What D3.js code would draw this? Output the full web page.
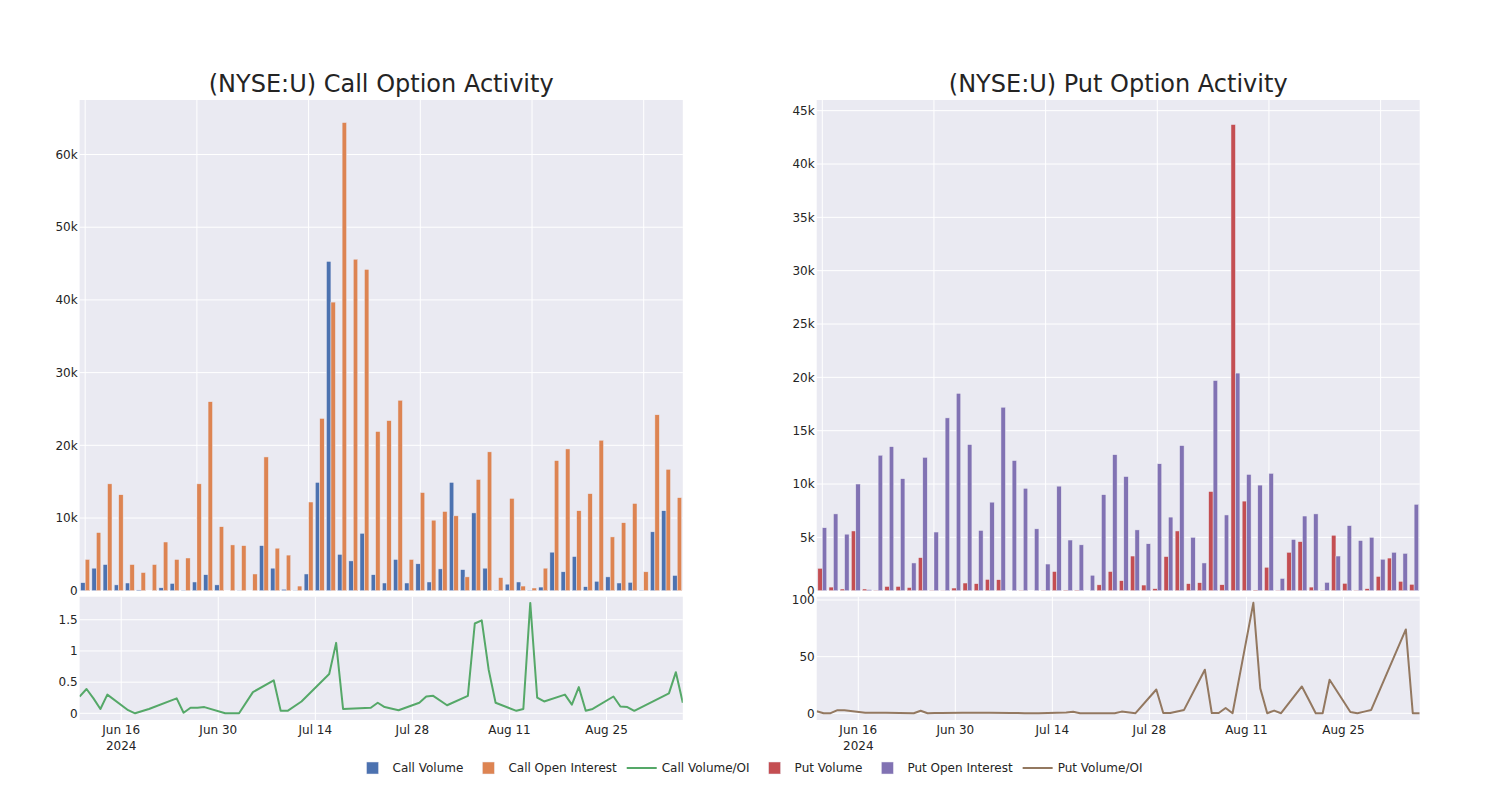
<!DOCTYPE html>
<html><head><meta charset="utf-8">
<script src="https://cdn.jsdelivr.net/npm/d3@7"></script>
<style>
body{margin:0;background:#fff}
text{font-family:"DejaVu Sans",verdana,arial,sans-serif;fill:rgb(36,36,36)}
</style></head>
<body><svg id="c" width="1500" height="800"></svg>
<script>
// ---------- DATA ----------
const dates = ["2024-06-10","2024-06-11","2024-06-12","2024-06-13","2024-06-14","2024-06-17","2024-06-18","2024-06-20",
"2024-06-24","2024-06-25","2024-06-26","2024-06-27","2024-06-28","2024-07-01","2024-07-02","2024-07-03","2024-07-05",
"2024-07-08","2024-07-09","2024-07-10","2024-07-12","2024-07-16","2024-07-17","2024-07-18","2024-07-22","2024-07-23",
"2024-07-24","2024-07-26","2024-07-29","2024-07-30","2024-07-31","2024-08-02","2024-08-05","2024-08-06","2024-08-07",
"2024-08-08","2024-08-09","2024-08-12","2024-08-13","2024-08-14","2024-08-15","2024-08-16","2024-08-19","2024-08-20",
"2024-08-21","2024-08-22","2024-08-23","2024-08-26","2024-08-27","2024-08-28","2024-08-29","2024-09-03","2024-09-04","2024-09-05"];

const callVolume = [1100,3100,3600,800,1060,100,0,400,1000,50,1200,2200,800,0,30,0,6200,3100,200,30,2300,14900,45300,5000,
4100,7900,2200,1060,4300,1060,3700,1200,3000,14900,2900,10700,3100,50,900,1200,50,500,5300,2600,4700,550,1300,1900,1060,1150,50,8100,11000,2100];
const callOpenInterest = [4300,8000,14700,13200,3600,2500,3600,6700,4300,4500,14700,26000,8800,6300,6200,2300,18400,5850,4900,640,
12200,23700,39700,64400,45600,44200,21900,23400,26200,4300,13500,9700,10900,10300,1900,15300,19100,1800,12700,640,370,3100,
17900,19500,11000,13350,20700,7400,9350,12000,2600,24200,16700,12800];
const callVolOI = [0.27,0.39,0.24,0.07,0.30,0.05,0.0,0.07,0.24,0.01,0.09,0.09,0.10,0.0,0.0,0.0,0.34,0.53,0.04,0.04,0.19,0.63,
1.13,0.07,0.09,0.17,0.10,0.05,0.17,0.27,0.28,0.13,0.28,1.44,1.49,0.70,0.17,0.04,0.07,1.77,0.25,0.19,0.30,0.14,0.42,0.04,0.07,
0.27,0.11,0.10,0.04,0.32,0.66,0.17];

const putVolume = [2100,340,160,5600,160,30,400,400,300,3100,30,20,250,720,660,1060,1030,0,30,0,30,1800,50,50,0,550,1800,940,
3250,530,190,3200,5600,660,750,9300,560,43700,8400,60,2200,30,3600,4600,340,30,5200,690,30,190,1340,3060,880,600];
const putOpenInterest = [5900,7200,5300,10000,100,12700,13500,10500,2600,12500,5500,16200,18500,13700,5650,8300,17200,12200,9600,
5800,2500,9800,4750,4300,1450,9000,12750,10700,5700,4400,11900,6900,13600,5000,2600,19700,7100,20400,10900,9900,11000,1150,
4800,7000,7200,780,3250,6100,4700,5000,2950,3600,3500,8100];
const putVolOI = [1.8,0.1,0.1,2.8,2.6,0.4,0.4,0.6,0.1,2.2,0.1,0.2,0.2,0.4,0.5,0.5,0.4,0.3,0.2,0.1,0.1,0.8,1.3,0.1,0.1,0.1,1.5,
0.1,21,0.2,0.3,3,38.5,0.3,0.3,4.7,0.1,97.5,22,0.1,2.4,0.1,23.7,12,0.1,0.1,29.6,1.2,0.1,1.5,3,74,0.1,0.1];

const callBarTicks = [0,10000,20000,30000,40000,50000,60000];
const putBarTicks = [0,5000,10000,15000,20000,25000,30000,35000,40000,45000];
const callLineTicks = [0,0.5,1,1.5];
const putLineTicks = [0,50,100];
const dateTicks = ["2024-06-16","2024-06-30","2024-07-14","2024-07-28","2024-08-11","2024-08-25"];
const categoryGridIdx = [0,10,20,30,40,50];

const legendItems = [
  {name:"Call Volume", type:"bar", color:"#4C72B0"},
  {name:"Call Open Interest", type:"bar", color:"#DD8452"},
  {name:"Call Volume/OI", type:"line", color:"#55A868"},
  {name:"Put Volume", type:"bar", color:"#C44E52"},
  {name:"Put Open Interest", type:"bar", color:"#8172B3"},
  {name:"Put Volume/OI", type:"line", color:"#937860"}
];

// ---------- DRAW ----------
const svg = d3.select("#c");
const parse = d3.utcParse("%Y-%m-%d");
const BG = "rgb(234,234,242)";
const barTop = 100, barBottom = 590.7, lineTop = 596.7, lineBottom = 720;

function panel(cfg){
  const g = svg.append("g");
  const xb = d3.scaleBand().domain(dates).range([cfg.x0, cfg.x1]).padding(0);
  const sub = d3.scaleBand().domain([0,1]).range([0.1*xb.bandwidth(), 0.9*xb.bandwidth()]).padding(0);
  const yb = d3.scaleLinear().domain([0, cfg.barMax]).range([barBottom, barTop]);
  const xt = d3.scaleUtc().domain([parse(dates[0]), parse(dates[dates.length-1])]).range([cfg.x0, cfg.x1]);
  const yl = d3.scaleLinear().domain(cfg.lineDomain).range([lineBottom, lineTop]);

  // title
  g.append("text").attr("x",(cfg.x0+cfg.x1)/2).attr("y",92).attr("text-anchor","middle")
    .style("font-size","24px").text(cfg.title);

  // bar subplot
  g.append("rect").attr("x",cfg.x0).attr("y",barTop).attr("width",cfg.x1-cfg.x0).attr("height",barBottom-barTop).attr("fill",BG);
  g.selectAll(".ygb").data(cfg.barTicks).join("line")
    .attr("x1",cfg.x0).attr("x2",cfg.x1).attr("y1",d=>yb(d)).attr("y2",d=>yb(d)).attr("stroke","#fff").attr("stroke-width",1);
  g.selectAll(".xgb").data(categoryGridIdx).join("line")
    .attr("x1",i=>xb(dates[i])+xb.bandwidth()/2).attr("x2",i=>xb(dates[i])+xb.bandwidth()/2)
    .attr("y1",barTop).attr("y2",barBottom).attr("stroke","#fff").attr("stroke-width",1);
  [cfg.vol, cfg.oi].forEach((arr,k)=>{
    g.append("g").selectAll("rect").data(arr).join("rect")
      .attr("x",(d,i)=>xb(dates[i])+sub(k)).attr("width",sub.bandwidth())
      .attr("y",d=>yb(d)).attr("height",d=>barBottom-yb(d))
      .attr("fill",cfg.colors[k]).attr("stroke",BG).attr("stroke-width",0.5);
  });
  const fmtK = d3.format("~s");
  g.selectAll(".ytb").data(cfg.barTicks).join("text")
    .attr("x",cfg.x0-2).attr("y",d=>yb(d)).attr("dy","0.35em").attr("text-anchor","end")
    .style("font-size","12px").text(d=>fmtK(d));

  // line subplot
  const clipId = "clip"+cfg.id;
  svg.append("clipPath").attr("id",clipId).append("rect")
    .attr("x",cfg.x0).attr("y",lineTop).attr("width",cfg.x1-cfg.x0).attr("height",lineBottom-lineTop);
  g.append("rect").attr("x",cfg.x0).attr("y",lineTop).attr("width",cfg.x1-cfg.x0).attr("height",lineBottom-lineTop).attr("fill",BG);
  g.selectAll(".ygl").data(cfg.lineTicks).join("line")
    .attr("x1",cfg.x0).attr("x2",cfg.x1).attr("y1",d=>yl(d)).attr("y2",d=>yl(d)).attr("stroke","#fff").attr("stroke-width",1);
  g.selectAll(".xgl").data(dateTicks).join("line")
    .attr("x1",d=>xt(parse(d))).attr("x2",d=>xt(parse(d))).attr("y1",lineTop).attr("y2",lineBottom)
    .attr("stroke","#fff").attr("stroke-width",1);
  const line = d3.line().x((d,i)=>xt(parse(dates[i]))).y(d=>yl(d));
  g.append("path").datum(cfg.ratio).attr("d",line).attr("fill","none").attr("stroke",cfg.colors[2])
    .attr("stroke-width",2).attr("stroke-linejoin","round").attr("clip-path",`url(#${clipId})`);
  const fmtL = d3.format("~g");
  g.selectAll(".ytl").data(cfg.lineTicks).join("text")
    .attr("x",cfg.x0-2).attr("y",d=>yl(d)).attr("dy","0.35em").attr("text-anchor","end")
    .style("font-size","12px").text(d=>fmtL(d));
  const fmtD = d3.utcFormat("%b %-d");
  const xl = g.selectAll(".xtl").data(dateTicks).join("text")
    .attr("x",d=>xt(parse(d))).attr("y",733.5).attr("text-anchor","middle").style("font-size","12px");
  xl.append("tspan").text(d=>fmtD(parse(d)));
  xl.filter((d,i)=>i===0).append("tspan").attr("x",d=>xt(parse(d))).attr("dy",16.5).text(d=>d3.utcFormat("%Y")(parse(d)));
}

panel({id:"call", x0:79.6, x1:682.8, title:"(NYSE:U) Call Option Activity",
  vol:callVolume, oi:callOpenInterest, ratio:callVolOI, colors:["#4C72B0","#DD8452","#55A868"],
  barMax:67500, barTicks:callBarTicks, lineDomain:[-0.107,1.87], lineTicks:callLineTicks});
panel({id:"put", x0:816.7, x1:1419.7, title:"(NYSE:U) Put Option Activity",
  vol:putVolume, oi:putOpenInterest, ratio:putVolOI, colors:["#C44E52","#8172B3","#937860"],
  barMax:46000, barTicks:putBarTicks, lineDomain:[-5.9,102.9], lineTicks:putLineTicks});

// legend
const lg = svg.append("g");
let x = 0;
const ly = 768;
legendItems.forEach(it=>{
  const item = lg.append("g").attr("transform",`translate(${x},0)`);
  if(it.type==="bar"){
    item.append("rect").attr("x",14).attr("y",ly-6).attr("width",12).attr("height",12)
      .attr("fill",it.color).attr("stroke",BG).attr("stroke-width",0.5);
  } else {
    item.append("line").attr("x1",5).attr("x2",35).attr("y1",ly).attr("y2",ly).attr("stroke",it.color).attr("stroke-width",2);
  }
  const t = item.append("text").attr("x",40).attr("y",ly).attr("dy","0.35em").style("font-size","12px").text(it.name);
  x += 40 + t.node().getComputedTextLength() + 5;
});
lg.attr("transform",`translate(${750 - x/2},0)`);
</script></body></html>
